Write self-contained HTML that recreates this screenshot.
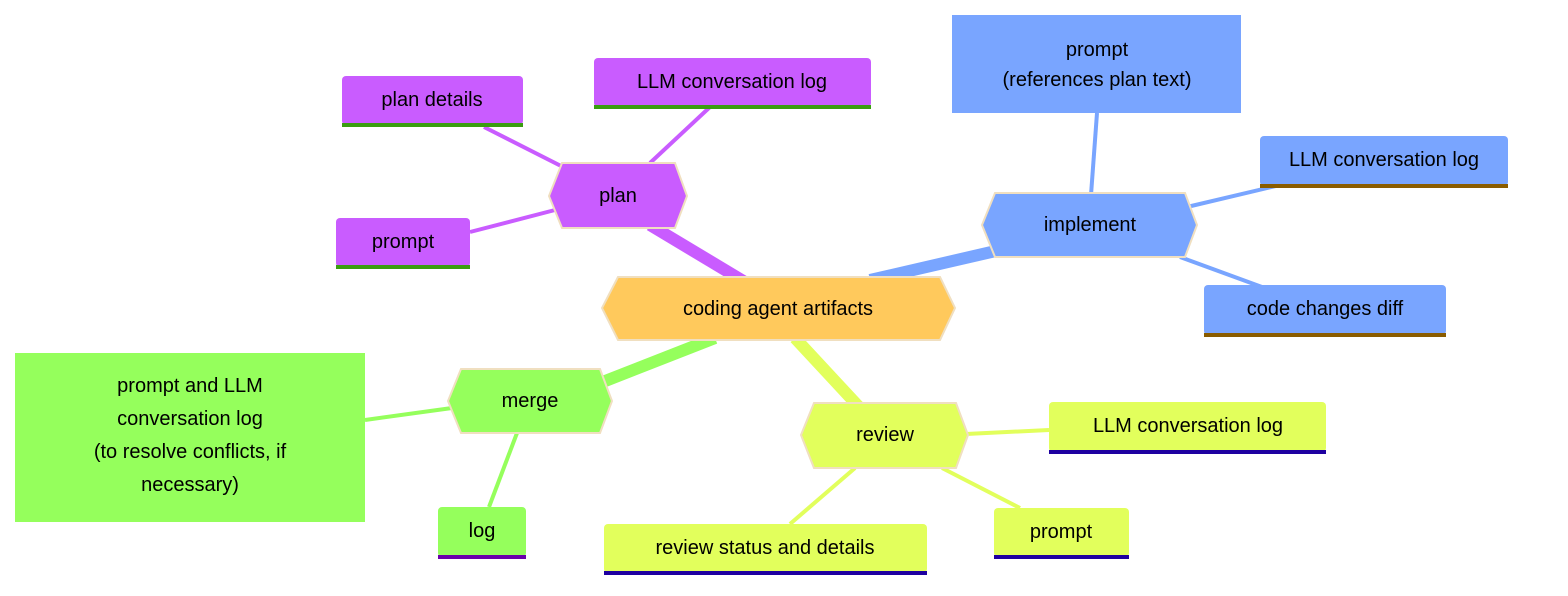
<!DOCTYPE html>
<html><head><meta charset="utf-8"><style>
html,body{margin:0;padding:0;background:#fff;}
svg{display:block;}
text{font-family:"Liberation Sans","DejaVu Sans",sans-serif;font-size:20px;text-anchor:middle;dominant-baseline:central;fill:#000;}
</style></head><body>
<svg width="1568" height="596" viewBox="0 0 1568 596">
<g stroke-linecap="butt" fill="none">
<line x1="745" y1="282" x2="650" y2="225" stroke="#c95cff" stroke-width="12"/>
<line x1="870" y1="280" x2="1000" y2="250" stroke="#79a5ff" stroke-width="12"/>
<line x1="715" y1="338" x2="595" y2="385" stroke="#95ff5c" stroke-width="12"/>
<line x1="795" y1="338" x2="860" y2="408" stroke="#e2ff5c" stroke-width="12"/>
<g stroke="#c95cff" stroke-width="4">
<line x1="484" y1="127" x2="565" y2="168"/><line x1="710" y1="107" x2="650" y2="163"/><line x1="470" y1="232" x2="555" y2="210"/></g>
<g stroke="#79a5ff" stroke-width="4">
<line x1="1097" y1="113" x2="1091" y2="195"/><line x1="1280" y1="185" x2="1187" y2="207"/><line x1="1262" y1="287" x2="1180" y2="257"/></g>
<g stroke="#95ff5c" stroke-width="4">
<line x1="365" y1="420" x2="452" y2="408"/><line x1="489" y1="507" x2="517" y2="433"/></g>
<g stroke="#e2ff5c" stroke-width="4">
<line x1="1049" y1="430" x2="966" y2="434"/><line x1="1020" y1="508" x2="942" y2="468"/><line x1="790" y1="524" x2="855" y2="468"/></g>
</g>
<!-- hexagons -->
<g stroke="#f0dfc0" stroke-width="2">
<polygon points="618,277 940,277 955,308 940,340 618,340 602,308" fill="#ffc95c"/>
<polygon points="562,163 675,163 687,196 675,228 562,228 549,196" fill="#c95cff"/>
<polygon points="995,193 1185,193 1197,225 1185,257 995,257 982,225" fill="#79a5ff"/>
<polygon points="461,369 600,369 612,401 600,433 461,433 448,401" fill="#95ff5c"/>
<polygon points="814,403 956,403 968,435 956,468 814,468 801,435" fill="#e2ff5c"/>
</g>
<text x="778" y="309" fill="#333">coding agent artifacts</text>
<text x="618" y="196">plan</text>
<text x="1090" y="225">implement</text>
<text x="530" y="401">merge</text>
<text x="885" y="435">review</text>
<!-- leaves -->
<rect x="342" y="76" width="181" height="49" rx="4" fill="#c95cff"/><rect x="342" y="123" width="181" height="4" fill="#3a9d10"/>
<text x="432" y="100">plan details</text>
<rect x="594" y="58" width="277" height="49" rx="4" fill="#c95cff"/><rect x="594" y="105" width="277" height="4" fill="#3a9d10"/>
<text x="732" y="82">LLM conversation log</text>
<rect x="336" y="218" width="134" height="49" rx="4" fill="#c95cff"/><rect x="336" y="265" width="134" height="4" fill="#3a9d10"/>
<text x="403" y="242">prompt</text>
<rect x="952" y="15" width="289" height="98" fill="#79a5ff"/>
<text x="1097" y="50">prompt</text><text x="1097" y="80">(references plan text)</text>
<rect x="1260" y="136" width="248" height="50" rx="4" fill="#79a5ff"/><rect x="1260" y="184" width="248" height="4" fill="#8a5c00"/>
<text x="1384" y="160">LLM conversation log</text>
<rect x="1204" y="285" width="242" height="50" rx="4" fill="#79a5ff"/><rect x="1204" y="333" width="242" height="4" fill="#8a5c00"/>
<text x="1325" y="309">code changes diff</text>
<rect x="15" y="353" width="350" height="169" fill="#95ff5c"/>
<text x="190" y="386">prompt and LLM</text><text x="190" y="419">conversation log</text><text x="190" y="452">(to resolve conflicts, if</text><text x="190" y="485">necessary)</text>
<rect x="438" y="507" width="88" height="50" rx="4" fill="#95ff5c"/><rect x="438" y="555" width="88" height="4" fill="#6a00aa"/>
<text x="482" y="531">log</text>
<rect x="1049" y="402" width="277" height="50" rx="4" fill="#e2ff5c"/><rect x="1049" y="450" width="277" height="4" fill="#1e00a0"/>
<text x="1188" y="426" fill="#333">LLM conversation log</text>
<rect x="994" y="508" width="135" height="49" rx="4" fill="#e2ff5c"/><rect x="994" y="555" width="135" height="4" fill="#1e00a0"/>
<text x="1061" y="532" fill="#333">prompt</text>
<rect x="604" y="524" width="323" height="49" rx="4" fill="#e2ff5c"/><rect x="604" y="571" width="323" height="4" fill="#1e00a0"/>
<text x="765" y="548" fill="#333">review status and details</text>
</svg>
</body></html>
